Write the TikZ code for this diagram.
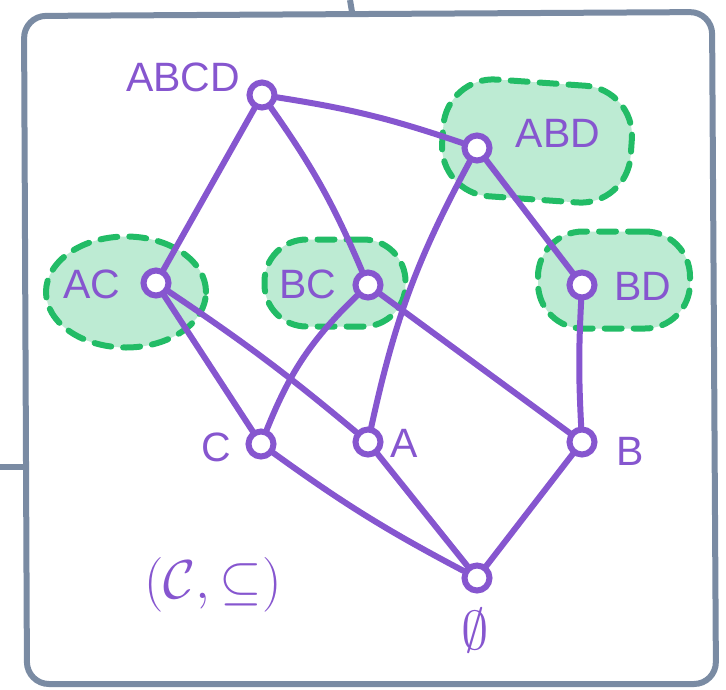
\documentclass[tikz,border=0pt]{standalone}
\usepackage{fontspec}
\usepackage{graphicx}
\setmainfont{Liberation Sans}
\usetikzlibrary{shapes.geometric}
\definecolor{purp}{HTML}{8656CF}
\definecolor{frm}{HTML}{7A8BA3}
\definecolor{gfill}{HTML}{BDEBD3}
\definecolor{gline}{HTML}{22BC66}
\tikzset{
  pt/.style={circle, draw=purp, line width=6pt, fill=white, minimum size=25pt, inner sep=0pt},
  edge/.style={draw=purp, line width=6pt, line cap=round},
  blob/.style={fill=gfill, draw=gline, line width=6pt, dash pattern=on 17pt off 12pt, line cap=round, inner sep=0pt},
  lbl/.style={text=purp, font=\fontsize{41}{41}\selectfont, inner sep=0pt},
  frame/.style={draw=frm, line width=6pt, line cap=round, rounded corners=22pt}
}
\begin{document}
\begin{tikzpicture}[x=1pt,y=-1pt]
\useasboundingbox (0,0) rectangle (726,689);
% frame
\draw[frame] (24,16) -- (712,12) -- (716,684) -- (27,684) -- cycle;
\coordinate (t1) at (350,0);
\coordinate (t2) at (352,12);
\draw[draw=frm, line width=6pt] (t1) -- (t2);
\coordinate (l1) at (0,467);
\coordinate (l2) at (23,467);
\draw[draw=frm, line width=6pt] (l1) -- (l2);
% blobs
\node[blob, ellipse, minimum width=160pt, minimum height=111pt] (gAC) at (126,292) {};
\node[blob, rectangle, rounded corners=42pt, minimum width=141pt, minimum height=87pt] (gBC) at (335,283) {};
\node[blob, rectangle, rounded corners=50pt, minimum width=189pt, minimum height=117pt, rotate=-4] (gABD) at (537,141) {};
\node[blob, rectangle, rounded corners=45pt, minimum width=152pt, minimum height=97pt] (gBD) at (614,280) {};
% points
\node[pt] (ABCD) at (262,95) {};
\node[pt] (ABD) at (477,148) {};
\node[pt] (AC) at (156,283) {};
\node[pt] (BC) at (368,285) {};
\node[pt] (BD) at (582,285) {};
\node[pt] (C) at (261,444) {};
\node[pt] (A) at (368,442) {};
\node[pt] (B) at (582,442) {};
\node[pt] (E) at (477,578) {};
% edges
\draw[edge] (ABCD) -- (AC);
\draw[edge] (ABCD) to[bend left=6] (BC);
\draw[edge] (ABCD) to[bend left=5] (ABD);
\draw[edge] (ABD) to[bend right=8] (A);
\draw[edge] (ABD) -- (BD);
\draw[edge] (AC) -- (C);
\draw[edge] (AC) to[bend left=3] (A);
\draw[edge] (BC) to[bend right=12] (C);
\draw[edge] (BC) -- (B);
\draw[edge] (BD) to[bend right=3] (B);
\draw[edge] (C) to[bend right=4] (E);
\draw[edge] (A) -- (E);
\draw[edge] (B) -- (E);
% labels
\node[lbl] (tABCD) at (183,77) {ABCD};
\node[lbl] (tABD) at (558,133) {ABD};
\node[lbl] (tAC) at (92,284) {AC};
\node[lbl] (tBC) at (308,284) {BC};
\node[lbl] (tBD) at (643,286) {BD};
\node[lbl] (tC) at (216,447) {C};
\node[lbl] (tA) at (404,443) {A};
\node[lbl] (tB) at (630,451) {B};
\node[lbl] (tE) at (475,630) {\scalebox{2.2}{$\emptyset$}};
\node[lbl] (tP) at (213,585) {\scalebox{2.2}{$(\mathcal{C},\subseteq)$}};
\end{tikzpicture}
\end{document}
